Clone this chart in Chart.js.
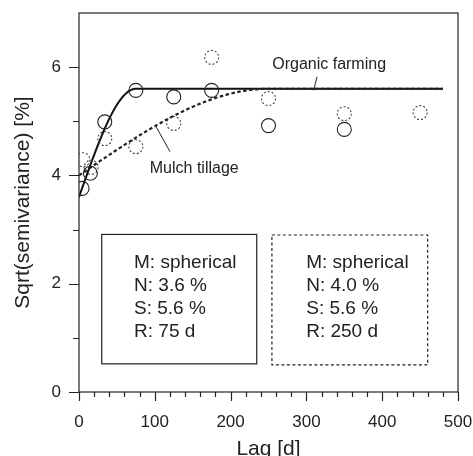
<!DOCTYPE html>
<html>
<head>
<meta charset="utf-8">
<script src="https://cdn.jsdelivr.net/npm/chart.js@4.4.0/dist/chart.umd.min.js"></script>
<style>
    html, body { margin: 0; padding: 0; background: #fff; }
    #contenedor { width: 473px; height: 456px; }
</style>
</head>
<body>
<div id="contenedor"><canvas id="grafico-variograma"></canvas></div>
<script>
// --- DATOS: variogramas experimentales (lag en d, raiz de semivarianza en %) ---
const lagOrganico = [4, 15, 34, 75, 125, 175, 250, 350];
const valOrganico = [3.76, 4.04, 4.99, 5.57, 5.45, 5.57, 4.92, 4.85];
const lagMulch = [5, 16, 34, 75, 125, 175, 250, 350, 450];
const valMulch = [4.29, 4.15, 4.68, 4.53, 4.96, 6.18, 5.42, 5.14, 5.16];

// --- MODELOS ESFERICOS AJUSTADOS (organico, mulch) ---
const modelos = ['spherical', 'spherical'];
const pepitas = [3.6, 4.0];   // N
const mesetas = [5.6, 5.6];   // S
const rangos = [75, 250];     // R
const lagMaximoModelo = 480;

const ticksX = [0, 100, 200, 300, 400, 500];
const ticksY = [0, 2, 4, 6];

const FUENTE = '"Liberation Sans", Arial, sans-serif';
const TINTA = '#222';

// curva del modelo esferico evaluada cada 2 d
const curvaEsferica = (n, s, r) => {
    const puntos = [];
    for (let h = 0; h <= lagMaximoModelo; h += 2) {
        const q = Math.min(h / r, 1);
        puntos.push({ x: h, y: n + (s - n) * (1.5 * q - 0.5 * q * q * q) });
    }
    return puntos;
};

const aPuntos = (xs, ys) => xs.map((x, i) => ({ x, y: ys[i] }));

// cajas con los parametros del modelo (en unidades de datos)
const cajas = [
    { x0: 30, x1: 234.5, y0: 2.91, y1: 0.52, dash: [] },
    { x0: 254.5, x1: 460, y0: 2.90, y1: 0.50, dash: [3, 2.5] }
];

// --- PLUGIN: marco, ticks mayores/menores, cajas y rotulos ---
const decoracion = {
    id: 'decoracion',
    beforeDatasetDraw(chart, args) {
        // circulos punteados para mulch tillage
        if (args.index === 1) chart.ctx.setLineDash([2, 2]);
    },
    afterDatasetDraw(chart, args) {
        if (args.index === 1) chart.ctx.setLineDash([]);
    },
    afterDraw(chart) {
        const { ctx, chartArea: a, scales: { x, y } } = chart;
        ctx.save();
        ctx.strokeStyle = TINTA;
        ctx.lineWidth = 1.2;
        ctx.strokeRect(a.left, a.top, a.right - a.left, a.bottom - a.top);

        ctx.beginPath();
        for (let v = 0; v <= 500; v += 20) {
            const px = Math.round(x.getPixelForValue(v)) + 0.5;
            const largo = v % 100 === 0 ? 9 : 5;
            ctx.moveTo(px, a.bottom);
            ctx.lineTo(px, a.bottom + largo);
        }
        for (let v = 0; v <= 6; v += 1) {
            const py = Math.round(y.getPixelForValue(v)) + 0.5;
            const largo = v % 2 === 0 ? 10 : 6;
            ctx.moveTo(a.left, py);
            ctx.lineTo(a.left - largo, py);
        }
        ctx.stroke();

        // cajas de parametros
        cajas.forEach((c, i) => {
            ctx.setLineDash(c.dash);
            ctx.lineWidth = 1.2;
            const px0 = x.getPixelForValue(c.x0), px1 = x.getPixelForValue(c.x1);
            const py0 = y.getPixelForValue(c.y0), py1 = y.getPixelForValue(c.y1);
            ctx.strokeRect(px0, py0, px1 - px0, py1 - py0);
            ctx.setLineDash([]);
            const lineas = [
                'M: ' + modelos[i],
                'N: ' + pepitas[i].toFixed(1) + ' %',
                'S: ' + mesetas[i].toFixed(1) + ' %',
                'R: ' + rangos[i] + ' d'
            ];
            ctx.fillStyle = TINTA;
            ctx.font = '19px ' + FUENTE;
            ctx.textBaseline = 'middle';
            ctx.textAlign = 'left';
            const tx = px0 + (i === 0 ? 32.3 : 34.3);
            lineas.forEach((t, k) => ctx.fillText(t, tx, py0 + 28 + k * 23));
        });

        // rotulos de las curvas con lineas guia
        ctx.font = '16px ' + FUENTE;
        ctx.textAlign = 'center';
        ctx.fillText('Organic farming', x.getPixelForValue(330), y.getPixelForValue(6.05));
        ctx.fillText('Mulch tillage', x.getPixelForValue(152), y.getPixelForValue(4.13));
        ctx.lineWidth = 1;
        ctx.beginPath();
        ctx.moveTo(x.getPixelForValue(314), y.getPixelForValue(5.82));
        ctx.lineTo(x.getPixelForValue(309.5), y.getPixelForValue(5.57));
        ctx.moveTo(x.getPixelForValue(120), y.getPixelForValue(4.44));
        ctx.lineTo(x.getPixelForValue(100.5), y.getPixelForValue(4.93));
        ctx.stroke();
        ctx.restore();
    }
};

const ctxGrafico = document.getElementById('grafico-variograma').getContext('2d');

new Chart(ctxGrafico, {
    type: 'scatter',
    data: {
        datasets: [
            {
                label: 'Organic farming',
                data: aPuntos(lagOrganico, valOrganico),
                pointRadius: 7,
                pointBorderWidth: 1.1,
                pointBorderColor: '#222',
                pointBackgroundColor: 'rgba(0,0,0,0)'
            },
            {
                label: 'Mulch tillage',
                data: aPuntos(lagMulch, valMulch),
                pointRadius: 7,
                pointBorderWidth: 1.1,
                pointBorderColor: '#444',
                pointBackgroundColor: 'rgba(0,0,0,0)'
            },
            {
                type: 'line',
                label: 'Modelo mulch',
                data: curvaEsferica(pepitas[1], mesetas[1], rangos[1]),
                borderColor: '#222',
                borderWidth: 2.2,
                borderDash: [3.5, 2.5],
                pointRadius: 0,
                fill: false
            },
            {
                type: 'line',
                label: 'Modelo organico',
                data: curvaEsferica(pepitas[0], mesetas[0], rangos[0]),
                borderColor: '#111',
                borderWidth: 2,
                pointRadius: 0,
                fill: false
            }
        ]
    },
    options: {
        responsive: true,
        maintainAspectRatio: false,
        animation: false,
        layout: { padding: { top: 13, right: 15, left: 0, bottom: 0 } },
        plugins: {
            legend: { display: false },
            tooltip: { enabled: false }
        },
        scales: {
            x: {
                type: 'linear',
                min: 0,
                max: 500,
                afterFit: (s) => { s.height = 64; s.paddingLeft = 0; s.paddingRight = 0; },
                afterBuildTicks: (s) => { s.ticks = ticksX.map(v => ({ value: v })); },
                grid: { display: false },
                border: { display: false },
                ticks: { color: TINTA, font: { family: FUENTE, size: 17 }, padding: 12, maxRotation: 0 },
                title: {
                    display: true,
                    text: 'Lag [d]',
                    color: TINTA,
                    font: { family: FUENTE, size: 21 },
                    padding: { top: 0, bottom: -6 }
                }
            },
            y: {
                type: 'linear',
                min: 0,
                max: 7,
                afterFit: (s) => { s.width = 79; s.paddingTop = 0; s.paddingBottom = 0; },
                afterBuildTicks: (s) => { s.ticks = ticksY.map(v => ({ value: v })); },
                grid: { display: false },
                border: { display: false },
                ticks: { color: TINTA, font: { family: FUENTE, size: 17 }, padding: 10 },
                title: {
                    display: true,
                    text: 'Sqrt(semivariance) [%]',
                    color: TINTA,
                    font: { family: FUENTE, size: 21 },
                    padding: { top: 11, bottom: 0 }
                }
            }
        }
    },
    plugins: [decoracion]
});
</script>
</body>
</html>
